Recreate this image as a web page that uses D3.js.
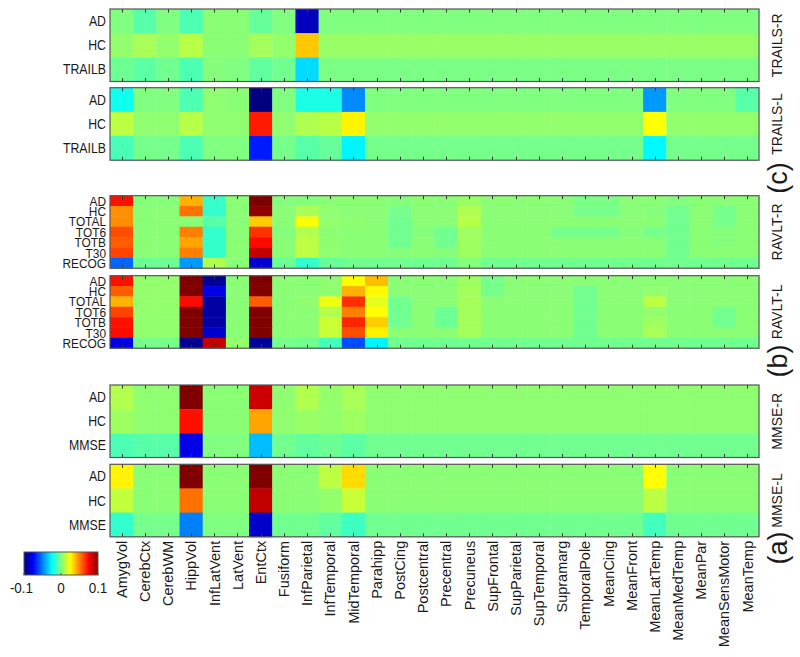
<!DOCTYPE html>
<html><head><meta charset="utf-8">
<script src="https://cdn.jsdelivr.net/npm/d3@7/dist/d3.min.js"></script>
<style>
body{margin:0;background:#fff}
svg{display:block}
text{font-family:"Liberation Sans",Arial,Helvetica,sans-serif;fill:#1a1a1a}
</style>
</head><body>
<svg id="chart" width="800" height="657"></svg>
<script>
// ---------------- DATA ----------------
const regions = ["AmygVol","CerebCtx","CerebWM","HippVol","InfLatVent","LatVent","EntCtx","Fusiform","InfParietal","InfTemporal","MidTemporal","Parahipp","PostCing","Postcentral","Precentral","Precuneus","SupFrontal","SupParietal","SupTemporal","Supramarg","TemporalPole","MeanCing","MeanFront","MeanLatTemp","MeanMedTemp","MeanPar","MeanSensMotor","MeanTemp"];

const trailsRows = ["AD","HC","TRAILB"];
const ravltRows = ["AD","HC","TOTAL","TOT6","TOTB","T30","RECOG"];
const mmseRows = ["AD","HC","MMSE"];

const panelNames = ["TRAILS-R","TRAILS-L","RAVLT-R","RAVLT-L","MMSE-R","MMSE-L"];
const groupLabels = ["(c)","(b)","(a)"];
const colorTicks = [-0.1, 0, 0.1];
const colorTickLabels = ["-0.1","0","0.1"];

const trailsR = [
 [0,-0.008,0,-0.01,0.002,0.002,-0.005,0,-0.088,0,0,0,0,0,0,0,0,0,0,0,0,0,0,0,0,0,0,0],
 [0.004,0.008,0.004,0.011,0.002,0.002,0.007,0.004,0.036,0.005,0.005,0.005,0.005,0.005,0.005,0.005,0.005,0.005,0.005,0.005,0.005,0.005,0.005,0.005,0.005,0.005,0.005,0.005],
 [-0.004,-0.007,-0.003,-0.01,0.001,0,-0.006,-0.003,-0.032,-0.001,-0.001,-0.001,-0.001,-0.001,-0.001,-0.001,-0.001,-0.001,-0.001,-0.001,-0.001,-0.001,-0.001,-0.001,-0.001,-0.001,-0.001,-0.001]
];
const trailsL = [
 [-0.022,0,0,-0.01,0.003,0.002,-0.1,0,-0.02,-0.02,-0.048,0,0,0,0,0,0,0,0,0,0,0,0,-0.045,0,0,0,-0.008],
 [0.012,0.003,0.003,0.011,0.003,0.003,0.07,0.003,0.009,0.011,0.027,0.004,0.004,0.004,0.004,0.004,0.004,0.004,0.004,0.004,0.004,0.004,0.004,0.025,0.004,0.004,0.004,0.004],
 [-0.011,-0.002,-0.002,-0.01,0,0,-0.07,-0.002,-0.008,-0.005,-0.027,-0.002,-0.002,-0.002,-0.002,-0.002,-0.002,-0.002,-0.002,-0.002,-0.002,-0.002,-0.002,-0.026,-0.002,-0.002,-0.002,-0.002]
];
const ravltR = [
 [0.072,0.001,0.001,0.04,-0.014,0.002,0.1,0.001,0.001,0.002,0.002,0.002,0.001,0.002,0.002,0.005,0.002,0.002,0.002,0.002,-0.001,-0.001,0.002,0.002,0.001,0.002,0.002,0.002],
 [0.047,0.002,0.002,0.053,-0.015,0.002,0.097,0.002,0.008,0.003,0.002,0.002,-0.002,0.002,0.002,0.009,0.002,0.002,0.002,0.002,-0.002,-0.002,0.002,0.001,-0.003,0.002,-0.002,0.002],
 [0.047,0.002,0.002,0.002,-0.008,0.002,0.035,0.002,0.024,0.004,0.003,0.002,-0.003,0.002,0.002,0.011,0.002,0.002,0.002,0.002,0.002,0.002,0.002,0.002,-0.003,0.002,-0.002,0.002],
 [0.06,0.002,0.002,0.05,-0.015,0.002,0.065,0.001,0.01,0.003,0.002,0.002,-0.003,0.001,-0.003,0.006,0.002,0.002,0.002,-0.002,-0.002,-0.002,0.001,-0.002,-0.003,0.002,0.001,0.002],
 [0.057,0.002,0.002,0.043,-0.015,0.002,0.073,0.002,0.012,0.003,0.002,0.002,-0.003,0.002,-0.003,0.006,0.002,0.002,0.002,0.002,0.002,0.002,0.002,0.002,-0.003,0.002,0.001,0.002],
 [0.062,0.002,0.002,0.05,-0.015,0.002,0.087,0.002,0.012,0.003,0.002,0.002,0.001,0.002,0.001,0.006,0.002,0.002,0.002,0.002,0.002,0.002,0.002,0.002,-0.003,0.002,0.002,0.002],
 [-0.055,-0.004,-0.004,-0.045,0.01,0.002,-0.085,-0.004,-0.015,-0.005,-0.003,-0.003,-0.003,-0.003,-0.003,0.001,-0.003,-0.003,-0.003,-0.003,-0.003,-0.003,-0.003,-0.003,-0.003,-0.003,-0.003,-0.003]
];
const ravltL = [
 [0.072,0.004,0.004,0.1,-0.095,0.002,0.1,0.002,0.002,0.003,0.025,0.038,0.002,0.002,0.002,0.006,-0.002,0.002,0.002,0.002,0.002,0.002,0.002,0.002,0.002,0.002,0.002,0.002],
 [0.057,0.004,0.004,0.1,-0.08,0.002,0.1,0.002,0.002,0.003,0.04,0.026,0.002,0.002,0.002,0.007,-0.002,0.002,0.002,0.002,-0.003,0.002,0.002,0.004,0.002,0.002,0.002,0.002],
 [0.04,0.004,0.004,0.073,-0.093,0.002,0.057,0.002,0.003,0.022,0.066,0.02,-0.003,0.002,0.002,0.007,0.002,0.002,0.002,0.002,-0.003,0.002,0.002,0.012,0.002,0.002,0.002,0.002],
 [0.062,0.004,0.004,0.1,-0.093,0.002,0.1,0.002,0.002,0.01,0.05,0.025,-0.003,0.002,-0.004,0.007,0.002,0.002,0.002,0.002,-0.003,0.002,0.002,0.004,0.002,0.002,-0.003,0.002],
 [0.072,0.004,0.004,0.1,-0.093,0.002,0.1,0.002,0.002,0.015,0.068,0.035,-0.003,0.002,-0.004,0.007,0.002,0.002,0.002,0.002,-0.003,0.002,0.002,0.006,0.002,0.002,-0.003,0.002],
 [0.073,0.004,0.004,0.1,-0.085,0.002,0.1,0.002,0.002,0.014,0.06,0.028,0.002,0.002,0.002,0.007,0.002,0.002,0.002,0.002,-0.003,0.002,0.002,0.008,0.002,0.002,0.002,0.002],
 [-0.08,-0.002,-0.002,-0.097,0.087,0.004,-0.095,-0.002,-0.003,-0.012,-0.06,-0.027,-0.003,-0.003,-0.003,-0.003,-0.003,-0.003,-0.003,-0.003,-0.003,-0.003,-0.003,-0.003,-0.003,-0.003,-0.003,-0.003]
];
const mmseR = [
 [0.01,0.003,0.003,0.1,0.002,0.002,0.085,0.003,0.01,0.004,0.008,0.003,0.003,0.003,0.003,0.003,0.003,0.003,0.003,0.003,0.003,0.003,0.003,0.003,0.003,0.003,0.003,0.003],
 [0.006,0.003,0.003,0.072,0.002,0.002,0.043,0.003,0.005,0.004,0.006,0.003,0.003,0.003,0.003,0.003,0.003,0.003,0.003,0.003,0.003,0.003,0.003,0.003,0.003,0.003,0.003,0.003],
 [-0.01,-0.008,-0.008,-0.08,0,0,-0.038,-0.003,-0.006,-0.004,-0.007,-0.003,-0.003,-0.003,-0.003,-0.003,-0.003,-0.003,-0.003,-0.003,-0.003,-0.003,-0.003,-0.003,-0.003,-0.003,-0.003,-0.003]
];
const mmseL = [
 [0.027,0.002,0.002,0.1,0.002,0.002,0.1,0.002,0.002,0.012,0.032,0.002,0.002,0.002,0.002,0.002,0.002,0.002,0.002,0.002,0.002,0.002,0.002,0.025,0.002,0.002,0.002,0.002],
 [0.013,0.002,0.002,0.053,0.002,0.002,0.087,0.002,0.002,0.004,0.014,0.002,0.002,0.002,0.002,0.002,0.002,0.002,0.002,0.002,0.002,0.002,0.002,0.012,0.002,0.002,0.002,0.002],
 [-0.015,-0.002,-0.002,-0.05,0,0,-0.085,-0.003,-0.003,-0.006,-0.013,-0.003,-0.003,-0.003,-0.003,-0.003,-0.003,-0.003,-0.003,-0.003,-0.003,-0.003,-0.003,-0.012,-0.003,-0.003,-0.003,-0.003]
];

// ---------------- LAYOUT ----------------
const panels = [
  {name: panelNames[0], rows: trailsRows, values: trailsR, top: 9},
  {name: panelNames[1], rows: trailsRows, values: trailsL, top: 87.7},
  {name: panelNames[2], rows: ravltRows,  values: ravltR,  top: 195.7},
  {name: panelNames[3], rows: ravltRows,  values: ravltL,  top: 275.7},
  {name: panelNames[4], rows: mmseRows,   values: mmseR,   top: 385},
  {name: panelNames[5], rows: mmseRows,   values: mmseL,   top: 464.3}
];
const panelH = 72.5;
const left = 110, right = 759;
const groups = [
  {label: groupLabels[0], cy: 178},
  {label: groupLabels[1], cy: 361},
  {label: groupLabels[2], cy: 548}
];

const jetStops = ["#000080","#0000ff","#0080ff","#00ffff","#80ff80","#ffff00","#ff8000","#ff0000","#800000"];
const color = d3.scaleLinear()
  .domain(d3.range(jetStops.length).map(i => -0.1 + 0.2 * i / (jetStops.length - 1)))
  .range(jetStops).clamp(true);

const svg = d3.select("#chart");
const x = d3.scaleBand().domain(regions).range([left, right]).padding(0);

panels.forEach(p => {
  const y = d3.scaleBand().domain(p.rows).range([p.top, p.top + panelH]).padding(0);
  const g = svg.append("g");
  const cells = [];
  p.values.forEach((row, ri) => row.forEach((v, ci) => cells.push({r: p.rows[ri], c: regions[ci], v})));
  g.selectAll("rect.cell").data(cells).join("rect")
    .attr("class","cell")
    .attr("x", d => x(d.c)).attr("y", d => y(d.r))
    .attr("width", x.bandwidth() + 0.4).attr("height", y.bandwidth() + 0.4)
    .attr("fill", d => color(d.v));
  regions.forEach(r => {
    const cx = Math.round(x(r) + x.bandwidth()/2) + 0.5;
    g.append("line").attr("x1",cx).attr("x2",cx).attr("y1",p.top).attr("y2",p.top+3.5).attr("stroke","#333").attr("stroke-width",1);
    g.append("line").attr("x1",cx).attr("x2",cx).attr("y1",p.top+panelH-3.5).attr("y2",p.top+panelH).attr("stroke","#333").attr("stroke-width",1);
  });
  g.append("rect").attr("x",left).attr("y",p.top).attr("width",right-left).attr("height",panelH)
    .attr("fill","none").attr("stroke","#555").attr("stroke-width",1.2);
  const fs = p.rows.length > 3 ? 13.5 : 14;
  p.rows.forEach(r => {
    g.append("text")
      .attr("transform", `translate(106,${y(r) + y.bandwidth()/2}) scale(0.88,1)`)
      .attr("text-anchor","end").attr("dy","0.36em")
      .style("font-size", fs + "px").text(r);
  });
  g.append("text")
    .attr("transform", `translate(782,${p.top + panelH/2}) rotate(-90)`)
    .attr("text-anchor","middle")
    .style("font-size","14px").text(p.name);
});

groups.forEach(gl => {
  svg.append("text")
    .attr("transform", `translate(787,${gl.cy}) rotate(-90)`)
    .attr("text-anchor","middle")
    .style("font-size","27px").text(gl.label);
});

const bottom = panels[panels.length-1].top + panelH;
regions.forEach(r => {
  svg.append("text")
    .attr("transform", `translate(${x(r) + x.bandwidth()/2},${bottom + 4}) rotate(-90)`)
    .attr("text-anchor","end").attr("dy","0.36em")
    .style("font-size","14.5px").text(r);
});

const cbX0 = 24, cbX1 = 98, cbY = 552, cbH = 23;
const defs = svg.append("defs");
const grad = defs.append("linearGradient").attr("id","jet").attr("x1","0%").attr("x2","100%").attr("y1","0%").attr("y2","0%");
jetStops.forEach((c, i) => {
  grad.append("stop").attr("offset", (i / (jetStops.length - 1) * 100) + "%").attr("stop-color", c);
});
svg.append("rect").attr("x",cbX0).attr("y",cbY).attr("width",cbX1-cbX0).attr("height",cbH)
  .attr("fill","url(#jet)").attr("stroke","#555").attr("stroke-width",1);
const cbScale = d3.scaleLinear().domain([-0.1,0.1]).range([cbX0, cbX1]);
colorTicks.forEach((t, i) => {
  svg.append("line").attr("x1",cbScale(t)).attr("x2",cbScale(t)).attr("y1",cbY+cbH-2).attr("y2",cbY+cbH).attr("stroke","#555");
  svg.append("text")
    .attr("transform", `translate(${cbScale(t) - (i===0?2.5:0)},593) scale(0.9,1)`)
    .attr("text-anchor","middle")
    .style("font-size","15px").text(colorTickLabels[i]);
});
</script>
</body></html>
